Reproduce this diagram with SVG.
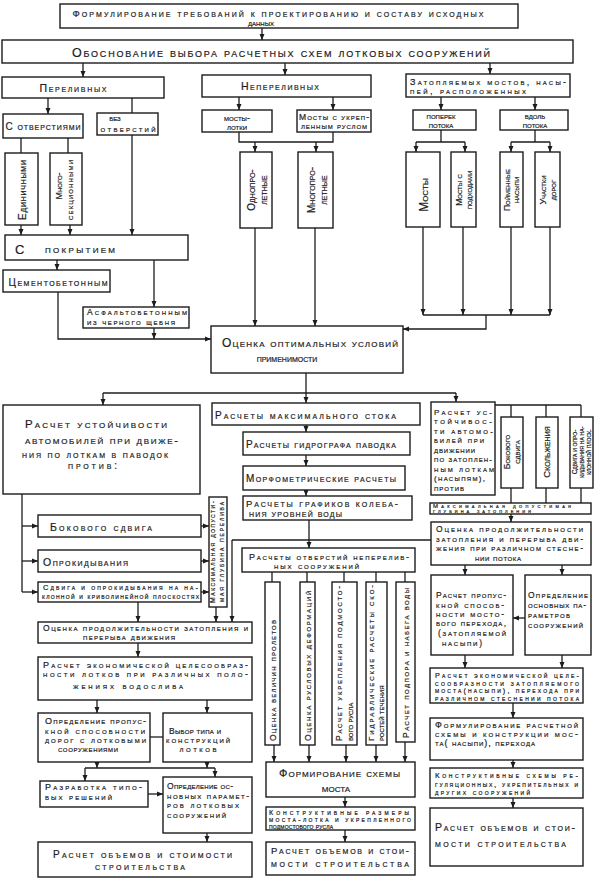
<svg xmlns="http://www.w3.org/2000/svg" width="597" height="881" viewBox="0 0 597 881">
<defs>
<style>
.bx{fill:#fff;stroke:#1c1c1c;stroke-width:1.4}
.ln{fill:none;stroke:#1c1c1c;stroke-width:1.3}
.ar{marker-end:url(#ah)}
text{font-family:"Liberation Sans","DejaVu Sans",sans-serif;font-variant:small-caps;fill:#1c1c1c;stroke:#1c1c1c;stroke-width:0.2}
.m{text-anchor:middle}
</style>
<marker id="ah" markerUnits="userSpaceOnUse" markerWidth="6" markerHeight="6" viewBox="0 0 6 6" refX="6" refY="3" orient="auto"><path d="M0,0.5 L6,3 L0,5.5z" fill="#1c1c1c"/></marker>
</defs>
<rect width="597" height="881" fill="#fff"/>

<g id="connectors">
<path class="ln ar" d="M262,28 V40"/>
<path class="ln ar" d="M83,63 V77"/>
<path class="ln ar" d="M285,63 V75"/>
<path class="ln ar" d="M490,63 V74"/>
<path class="ln ar" d="M48,98 V114"/>
<path class="ln" d="M132,98 V113"/>
<path class="ln" d="M21,138 V153 M68,138 V153"/>
<path class="ln ar" d="M239,97 V110"/>
<path class="ln ar" d="M333,97 V110"/>
<path class="ln ar" d="M441,97 V110"/>
<path class="ln ar" d="M535,97 V110"/>
<path class="ln" d="M239,132 V142 H333 V132"/>
<path class="ln ar" d="M255,142 V152"/>
<path class="ln ar" d="M316,142 V152"/>
<path class="ln" d="M441,130 V142 M416,142 H465"/>
<path class="ln ar" d="M416,142 V152"/>
<path class="ln ar" d="M465,142 V152"/>
<path class="ln" d="M535,130 V142 M511,142 H550"/>
<path class="ln ar" d="M511,142 V152"/>
<path class="ln ar" d="M550,142 V152"/>
<path class="ln ar" d="M21,225 V235"/>
<path class="ln ar" d="M70,225 V235"/>
<path class="ln ar" d="M132,135 V235"/>
<path class="ln ar" d="M57,260 V270"/>
<path class="ln ar" d="M154,260 V307"/>
<path class="ln ar" d="M58,292 V339 H211"/>
<path class="ln ar" d="M154,328 V339"/>
<path class="ln ar" d="M255,228 V326"/>
<path class="ln ar" d="M315,228 V326"/>
<path class="ln ar" d="M423,227 V315"/>
<path class="ln ar" d="M463,227 V315"/>
<path class="ln ar" d="M511,227 V315"/>
<path class="ln ar" d="M550,227 V315"/>
<path class="ln" d="M423,315 H550"/>
<path class="ln ar" d="M486,315 V329 H403"/>
<path class="ln ar" d="M306,373 V403"/>
<path class="ln" d="M103,393 H456"/>
<path class="ln ar" d="M103,393 V405"/>
<path class="ln ar" d="M456,393 V402"/>
<path class="ln ar" d="M306,425 V432"/>
<path class="ln ar" d="M306,455 V466"/>
<path class="ln ar" d="M306,490 V496"/>
<path class="ln ar" d="M309,520 V548"/>
<path class="ln" d="M232,540 H431"/>
<path class="ln ar" d="M232,540 V622"/>
<path class="ln ar" d="M216,607 V622"/>
<path class="ln" d="M22,494 V592"/>
<path class="ln ar" d="M22,526 H38"/>
<path class="ln ar" d="M22,561 H38"/>
<path class="ln ar" d="M22,592 H38"/>
<path class="ln ar" d="M201,526 H209"/>
<path class="ln ar" d="M201,561 H209"/>
<path class="ln ar" d="M201,592 H209"/>
<path class="ln ar" d="M138,602 V622"/>
<path class="ln ar" d="M138,643 V657"/>
<path class="ln ar" d="M97,700 V713"/>
<path class="ln ar" d="M207,700 V713"/>
<path class="ln" d="M150,737 H163"/>
<path class="ln ar" d="M97,762 V768"/>
<path class="ln ar" d="M207,762 V768"/>
<path class="ln" d="M85,768 H215"/>
<path class="ln ar" d="M85,768 V781"/>
<path class="ln ar" d="M215,768 V777"/>
<path class="ln ar" d="M148,794 H163"/>
<path class="ln ar" d="M207,833 V842"/>
<path class="ln" d="M272,572 V582 M307,572 V582 M344,572 V582 M376,572 V582 M405,572 V582"/>
<path class="ln ar" d="M274,745 V762"/>
<path class="ln ar" d="M309,745 V762"/>
<path class="ln ar" d="M346,745 V762"/>
<path class="ln ar" d="M376,745 V762"/>
<path class="ln ar" d="M405,742 V762"/>
<path class="ln ar" d="M345,797 V807"/>
<path class="ln ar" d="M345,830 V842"/>
<path class="ln" d="M495,405 H581 M511,405 V417 M546,405 V417 M581,405 V417"/>
<path class="ln" d="M511,488 V503 M546,488 V503 M581,488 V503"/>
<path class="ln ar" d="M511,514 V522"/>
<path class="ln ar" d="M465,565 V575"/>
<path class="ln ar" d="M562,565 V575"/>
<path class="ln ar" d="M525,618 H513"/>
<path class="ln ar" d="M465,655 V668"/>
<path class="ln ar" d="M562,655 V668"/>
<path class="ln ar" d="M513,703 V718"/>
<path class="ln ar" d="M513,760 V768"/>
<path class="ln ar" d="M513,798 V808"/>
</g>

<g id="n1"><rect class="bx" x="60" y="4" width="458" height="24"/>
<text class="m" x="278" y="16.5" font-size="9.5" textLength="411">Формулирование требований к проектированию и составу исходных</text>
<text class="m" x="261" y="26" font-size="9">данных</text></g>

<g id="n2"><rect class="bx" x="2" y="40" width="571" height="23"/>
<text class="m" x="281" y="56.5" font-size="12.5" textLength="418">Обоснование выбора расчетных схем лотковых сооружений</text></g>

<g id="n3"><rect class="bx" x="2" y="77" width="162" height="21"/>
<text class="m" x="73" y="91.5" font-size="10.5" textLength="67">Переливных</text></g>

<g id="n4"><rect class="bx" x="202" y="75" width="169" height="22"/>
<text class="m" x="280" y="90" font-size="10.5" textLength="78">Непереливных</text></g>

<g id="n5"><rect class="bx" x="406" y="74" width="164" height="23"/>
<text x="410" y="84.5" font-size="9" textLength="156">Затопляемых мостов, насы-</text>
<text x="410" y="94" font-size="9" textLength="116">пей, расположенных</text></g>

<g id="n6"><rect class="bx" x="3" y="114" width="80" height="24"/>
<text class="m" x="43" y="129.5" font-size="10" textLength="75">С отверстиями</text></g>

<g id="n7"><rect class="bx" x="97" y="113" width="61" height="22"/>
<text class="m" x="115" y="121" font-size="8">без</text>
<text class="m" x="128" y="131.5" font-size="9" textLength="55">отверстий</text></g>

<g id="n8"><rect class="bx" x="5" y="153" width="33" height="72"/>
<text class="m" font-size="10" transform="translate(22,190) rotate(-90)" y="3.5" textLength="60">Единичными</text></g>

<g id="n9"><rect class="bx" x="50" y="153" width="32" height="72"/>
<text class="m" font-size="9" transform="translate(59,186) rotate(-90)" y="3.1">Много-</text>
<text class="m" font-size="9" transform="translate(70,190) rotate(-90)" y="3.1" textLength="60">секционными</text></g>

<g id="n10"><rect class="bx" x="5" y="235" width="183" height="25"/>
<text x="15" y="253.5" font-size="13">С</text>
<text x="45" y="253" font-size="11" textLength="70">покрытием</text></g>

<g id="n11"><rect class="bx" x="3" y="270" width="107" height="22"/>
<text class="m" x="58" y="285.5" font-size="10" textLength="99">Цементобетонным</text></g>

<g id="n12"><rect class="bx" x="83" y="307" width="106" height="21"/>
<text x="87" y="315" font-size="8.5" textLength="100">Асфальтобетонным</text>
<text x="87" y="324.5" font-size="8.5" textLength="88">из черного щебня</text></g>

<g id="n13"><rect class="bx" x="202" y="110" width="70" height="22"/>
<text class="m" x="237" y="120.5" font-size="9">мосты-</text>
<text class="m" x="237" y="130" font-size="9">лотки</text></g>

<g id="n14"><rect class="bx" x="297" y="110" width="74" height="22"/>
<text class="m" x="334" y="119.5" font-size="8.5" textLength="70">Мосты с укреп-</text>
<text class="m" x="334" y="129" font-size="8.5" textLength="66">ленным руслом</text></g>

<g id="n15"><rect class="bx" x="240" y="152" width="32" height="76"/>
<text class="m" font-size="10" transform="translate(251,190) rotate(-90)" y="3.5">Однопро-</text>
<text class="m" font-size="10" transform="translate(263,190) rotate(-90)" y="3.5">летные</text></g>

<g id="n16"><rect class="bx" x="298" y="152" width="35" height="76"/>
<text class="m" font-size="10" transform="translate(311,190) rotate(-90)" y="3.5">Многопро-</text>
<text class="m" font-size="10" transform="translate(323,190) rotate(-90)" y="3.5">летные</text></g>

<g id="n17"><rect class="bx" x="413" y="110" width="63" height="20"/>
<text class="m" x="441" y="119" font-size="8.5">поперек</text>
<text class="m" x="441" y="127.5" font-size="8.5">потока</text></g>

<g id="n18"><rect class="bx" x="500" y="110" width="68" height="20"/>
<text class="m" x="535" y="119" font-size="8.5">вдоль</text>
<text class="m" x="535" y="127.5" font-size="8.5">потока</text></g>

<g id="n19"><rect class="bx" x="406" y="152" width="34" height="75"/>
<text class="m" font-size="12" transform="translate(424,195) rotate(-90)" y="4.2">Мосты</text></g>

<g id="n20"><rect class="bx" x="451" y="152" width="25" height="75"/>
<text class="m" font-size="8.5" transform="translate(459,190) rotate(-90)" y="3">Мосты с</text>
<text class="m" font-size="8.5" transform="translate(469,190) rotate(-90)" y="3">подходами</text></g>

<g id="n21"><rect class="bx" x="500" y="152" width="23" height="75"/>
<text class="m" font-size="8.5" transform="translate(507,190) rotate(-90)" y="3">Пойменные</text>
<text class="m" font-size="8.5" transform="translate(516,190) rotate(-90)" y="3">насыпи</text></g>

<g id="n22"><rect class="bx" x="535" y="152" width="25" height="75"/>
<text class="m" font-size="9" transform="translate(543,190) rotate(-90)" y="3.1">Участки</text>
<text class="m" font-size="9" transform="translate(553,190) rotate(-90)" y="3.1">дорог</text></g>

<g id="n23"><rect class="bx" x="211" y="326" width="192" height="47"/>
<text class="m" x="310" y="346.5" font-size="12" textLength="176">Оценка оптимальных условий</text>
<text class="m" x="287" y="361.5" font-size="10.5">применимости</text></g>

<g id="n24"><rect class="bx" x="3" y="405" width="197" height="89"/>
<text x="25" y="427.5" font-size="11.5" textLength="142">Расчет устойчивости</text>
<text x="25" y="443.5" font-size="11" textLength="153">автомобилей при движе-</text>
<text x="22" y="457.5" font-size="10" textLength="146">ния по лоткам в паводок</text>
<text x="68" y="469" font-size="10" textLength="49">против:</text></g>

<g id="n25"><rect class="bx" x="38" y="515" width="163" height="22"/>
<text x="50" y="530.5" font-size="10.5" textLength="102">Бокового сдвига</text></g>

<g id="n26"><rect class="bx" x="38" y="550" width="163" height="22"/>
<text x="43" y="565.5" font-size="10.5" textLength="85">Опрокидывания</text></g>

<g id="n27"><rect class="bx" x="38" y="582" width="163" height="20"/>
<text x="43" y="590" font-size="7.5" textLength="155">Сдвига и опрокидывания на на-</text>
<text x="42" y="598.5" font-size="7.5" textLength="157">клонной и криволинейной плоскостях</text></g>

<g id="n28"><rect class="bx" x="209" y="497" width="18" height="110"/>
<text class="m" font-size="7" transform="translate(213,552) rotate(-90)" y="2.4" textLength="102">Максимальная допусти-</text>
<text class="m" font-size="7" transform="translate(221.5,552) rotate(-90)" y="2.4" textLength="100">мая глубина перелива</text></g>

<g id="n29"><rect class="bx" x="38" y="622" width="214" height="21"/>
<text x="43" y="630.5" font-size="8.5" textLength="205">Оценка продолжительности затопления и</text>
<text class="m" x="129" y="640" font-size="8.5" textLength="92">перерыва движения</text></g>

<g id="n30"><rect class="bx" x="38" y="657" width="214" height="43"/>
<text x="43" y="667.5" font-size="9" textLength="205">Расчет экономической целесообраз-</text>
<text x="43" y="677" font-size="9" textLength="205">ности лотков при различных поло-</text>
<text class="m" x="128" y="689" font-size="9" textLength="110">жениях водослива</text></g>

<g id="n31"><rect class="bx" x="38" y="713" width="112" height="49"/>
<text x="45" y="724" font-size="9" textLength="101">Определение пропус-</text>
<text x="45" y="733.5" font-size="9" textLength="100">кной способности</text>
<text x="45" y="743" font-size="9" textLength="101">дорог с лотковыми</text>
<text class="m" x="88" y="752" font-size="9" textLength="60">сооружениями</text></g>

<g id="n32"><rect class="bx" x="163" y="713" width="89" height="49"/>
<text class="m" x="195" y="734" font-size="8.5" textLength="52">Выбор типа и</text>
<text class="m" x="198" y="743" font-size="9" textLength="64">конструкций</text>
<text class="m" x="198" y="752" font-size="9" textLength="37">лотков</text></g>

<g id="n33"><rect class="bx" x="40" y="781" width="108" height="26"/>
<text x="45" y="790" font-size="9" textLength="97">Разработка типо-</text>
<text x="45" y="799.5" font-size="9" textLength="67">вых решений</text></g>

<g id="n34"><rect class="bx" x="163" y="777" width="89" height="56"/>
<text x="167" y="789" font-size="8.5" textLength="66">Определение ос-</text>
<text x="167" y="798.5" font-size="8.5" textLength="82">новных парамет-</text>
<text x="167" y="808" font-size="8.5" textLength="72">ров лотковых</text>
<text x="167" y="817.5" font-size="8.5" textLength="59">сооружений</text></g>

<g id="n35"><rect class="bx" x="38" y="842" width="214" height="35"/>
<text x="53" y="857.5" font-size="10" textLength="179">Расчет объемов и стоимости</text>
<text class="m" x="140" y="869.5" font-size="10" textLength="90">строительства</text></g>

<g id="n36"><rect class="bx" x="212" y="403" width="208" height="22"/>
<text x="215" y="419" font-size="10" textLength="181">Расчеты максимального стока</text></g>

<g id="n37"><rect class="bx" x="243" y="432" width="167" height="23"/>
<text x="246" y="448" font-size="10" textLength="150">Расчеты гидрографа паводка</text></g>

<g id="n38"><rect class="bx" x="243" y="466" width="162" height="24"/>
<text x="246" y="481.5" font-size="10" textLength="150">Морфометрические расчеты</text></g>

<g id="n39"><rect class="bx" x="243" y="496" width="169" height="24"/>
<text x="246" y="506.5" font-size="9.5" textLength="152">Расчеты графиков колеба-</text>
<text x="249" y="516.5" font-size="9.5" textLength="93">ния уровней воды</text></g>

<g id="n40"><rect class="bx" x="242" y="548" width="173" height="24"/>
<text x="249" y="559.5" font-size="9" textLength="160">Расчеты отверстий неперелив-</text>
<text x="274" y="569" font-size="9" textLength="85">ных сооружений</text></g>

<g id="n41"><rect class="bx" x="265" y="582" width="15" height="163"/>
<text font-size="8.5" transform="translate(272.5,741) rotate(-90)" y="3" textLength="121">Оценка величин пролетов</text></g>

<g id="n42"><rect class="bx" x="300" y="582" width="15" height="163"/>
<text font-size="8.5" transform="translate(307.5,741) rotate(-90)" y="3" textLength="150">Оценка русловых деформаций</text></g>

<g id="n43"><rect class="bx" x="332" y="582" width="25" height="163"/>
<text font-size="8.5" transform="translate(339,741) rotate(-90)" y="3" textLength="155">Расчет укрепления подмосто-</text>
<text font-size="8.5" transform="translate(350,741) rotate(-90)" y="3">вого русла</text></g>

<g id="n44"><rect class="bx" x="366" y="582" width="21" height="163"/>
<text font-size="8" transform="translate(371,741) rotate(-90)" y="2.8" textLength="156">Гидравлические расчеты ско-</text>
<text font-size="8" transform="translate(381,741) rotate(-90)" y="2.8">ростей течения</text></g>

<g id="n45"><rect class="bx" x="396" y="582" width="19" height="160"/>
<text font-size="8.5" transform="translate(405.5,738) rotate(-90)" y="3" textLength="150">Расчет подпора и набега воды</text></g>

<g id="n46"><rect class="bx" x="266" y="762" width="149" height="35"/>
<text x="279" y="776.5" font-size="11" textLength="121">Формирование схемы</text>
<text class="m" x="336" y="791.5" font-size="11">моста</text></g>

<g id="n47"><rect class="bx" x="266" y="807" width="149" height="23"/>
<text x="269" y="814.5" font-size="7" textLength="140">Конструктивные размеры</text>
<text x="269" y="821.5" font-size="7" textLength="142">моста-лотка и укрепленного</text>
<text x="269" y="828.5" font-size="7" textLength="64">подмостового русла</text></g>

<g id="n48"><rect class="bx" x="266" y="842" width="149" height="33"/>
<text x="271" y="854" font-size="9.5" textLength="138">Расчет объемов и стои-</text>
<text x="271" y="867" font-size="9.5" textLength="138">мости строительства</text></g>

<g id="n49"><rect class="bx" x="431" y="402" width="64" height="93"/>
<text x="434" y="414.5" font-size="8" textLength="58">Расчет ус-</text>
<text x="434" y="424" font-size="8" textLength="58">тойчивос-</text>
<text x="434" y="433.5" font-size="8" textLength="59">ти автомо-</text>
<text x="434" y="443" font-size="8" textLength="50">билей при</text>
<text x="434" y="452.5" font-size="8" textLength="41">движении</text>
<text x="434" y="462" font-size="8" textLength="58">по затоплен-</text>
<text x="434" y="471.5" font-size="8" textLength="60">ным лоткам</text>
<text x="434" y="481" font-size="8" textLength="51">(насыпям),</text>
<text x="434" y="490.5" font-size="8" textLength="30">против</text></g>

<g id="n50"><rect class="bx" x="501" y="417" width="22" height="71"/>
<text class="m" font-size="8.5" transform="translate(507,452) rotate(-90)" y="3">Бокового</text>
<text class="m" font-size="8.5" transform="translate(517,452) rotate(-90)" y="3">сдвига</text></g>

<g id="n51"><rect class="bx" x="536" y="417" width="22" height="71"/>
<text class="m" font-size="9.5" transform="translate(547,452) rotate(-90)" y="3.3">Скольжения</text></g>

<g id="n52"><rect class="bx" x="570" y="417" width="23" height="71"/>
<text class="m" font-size="6.5" transform="translate(575,452) rotate(-90)" y="2.3">Сдвига и опро-</text>
<text class="m" font-size="6.5" transform="translate(582,452) rotate(-90)" y="2.3">кидывания на на-</text>
<text class="m" font-size="6.5" transform="translate(589,452) rotate(-90)" y="2.3">клонной плоск.</text></g>

<g id="n53"><rect class="bx" x="430" y="503" width="161" height="11"/>
<text x="433" y="508.3" font-size="6" textLength="138">Максимальная допустимая</text>
<text x="433" y="513.3" font-size="6" textLength="98">глубина затопления</text></g>

<g id="n54"><rect class="bx" x="431" y="522" width="160" height="43"/>
<text x="436" y="532" font-size="8.5" textLength="147">Оценка продолжительности</text>
<text x="436" y="541.5" font-size="8.5" textLength="147">затопления и перерыва дви-</text>
<text x="436" y="551" font-size="8.5" textLength="147">жения при различном стесне-</text>
<text class="m" x="498" y="561" font-size="8.5" textLength="46">нии потока</text></g>

<g id="n55"><rect class="bx" x="431" y="575" width="82" height="80"/>
<text x="436" y="598" font-size="8.5" textLength="70">Расчет пропус-</text>
<text x="436" y="608" font-size="8.5" textLength="68">кной способ-</text>
<text x="436" y="617" font-size="8.5" textLength="68">ности мосто-</text>
<text x="436" y="626" font-size="8.5" textLength="70">вого перехода,</text>
<text x="438" y="636" font-size="8.5" textLength="68">(затопляемой</text>
<text x="442" y="646" font-size="8.5" textLength="40">насыпи)</text></g>

<g id="n56"><rect class="bx" x="525" y="575" width="66" height="80"/>
<text x="528" y="598" font-size="8.5" textLength="60">Определение</text>
<text x="528" y="608" font-size="8.5" textLength="58">основных па-</text>
<text x="528" y="618" font-size="8.5" textLength="42">раметров</text>
<text x="528" y="628" font-size="8.5" textLength="55">сооружений</text></g>

<g id="n57"><rect class="bx" x="430" y="668" width="153" height="35"/>
<text x="435" y="678" font-size="7.2" textLength="144">Расчет экономической целе-</text>
<text x="435" y="685.5" font-size="7.2" textLength="144">сообразности затопляемого</text>
<text x="435" y="693" font-size="7.2" textLength="144">моста(насыпи), перехода при</text>
<text x="435" y="700.5" font-size="7.2" textLength="144">различном стеснении потока</text></g>

<g id="n58"><rect class="bx" x="430" y="718" width="153" height="42"/>
<text x="435" y="728" font-size="9" textLength="143">Формулирование расчетной</text>
<text x="435" y="737" font-size="9" textLength="143">схемы и конструкции мос-</text>
<text x="435" y="746" font-size="9" textLength="100">та( насыпи), перехода</text></g>

<g id="n59"><rect class="bx" x="430" y="768" width="153" height="30"/>
<text x="435" y="778" font-size="7.8" textLength="143">Конструктивные схемы ре-</text>
<text x="435" y="786.5" font-size="7.8" textLength="143">гуляционных, укрепительных и</text>
<text x="435" y="795" font-size="7.8" textLength="95">других сооружений</text></g>

<g id="n60"><rect class="bx" x="430" y="808" width="153" height="58"/>
<text x="435" y="830.5" font-size="10.5" textLength="140">Расчет объемов и стои-</text>
<text x="435" y="846.5" font-size="10.5" textLength="131">мости строительства</text></g>
</svg>
